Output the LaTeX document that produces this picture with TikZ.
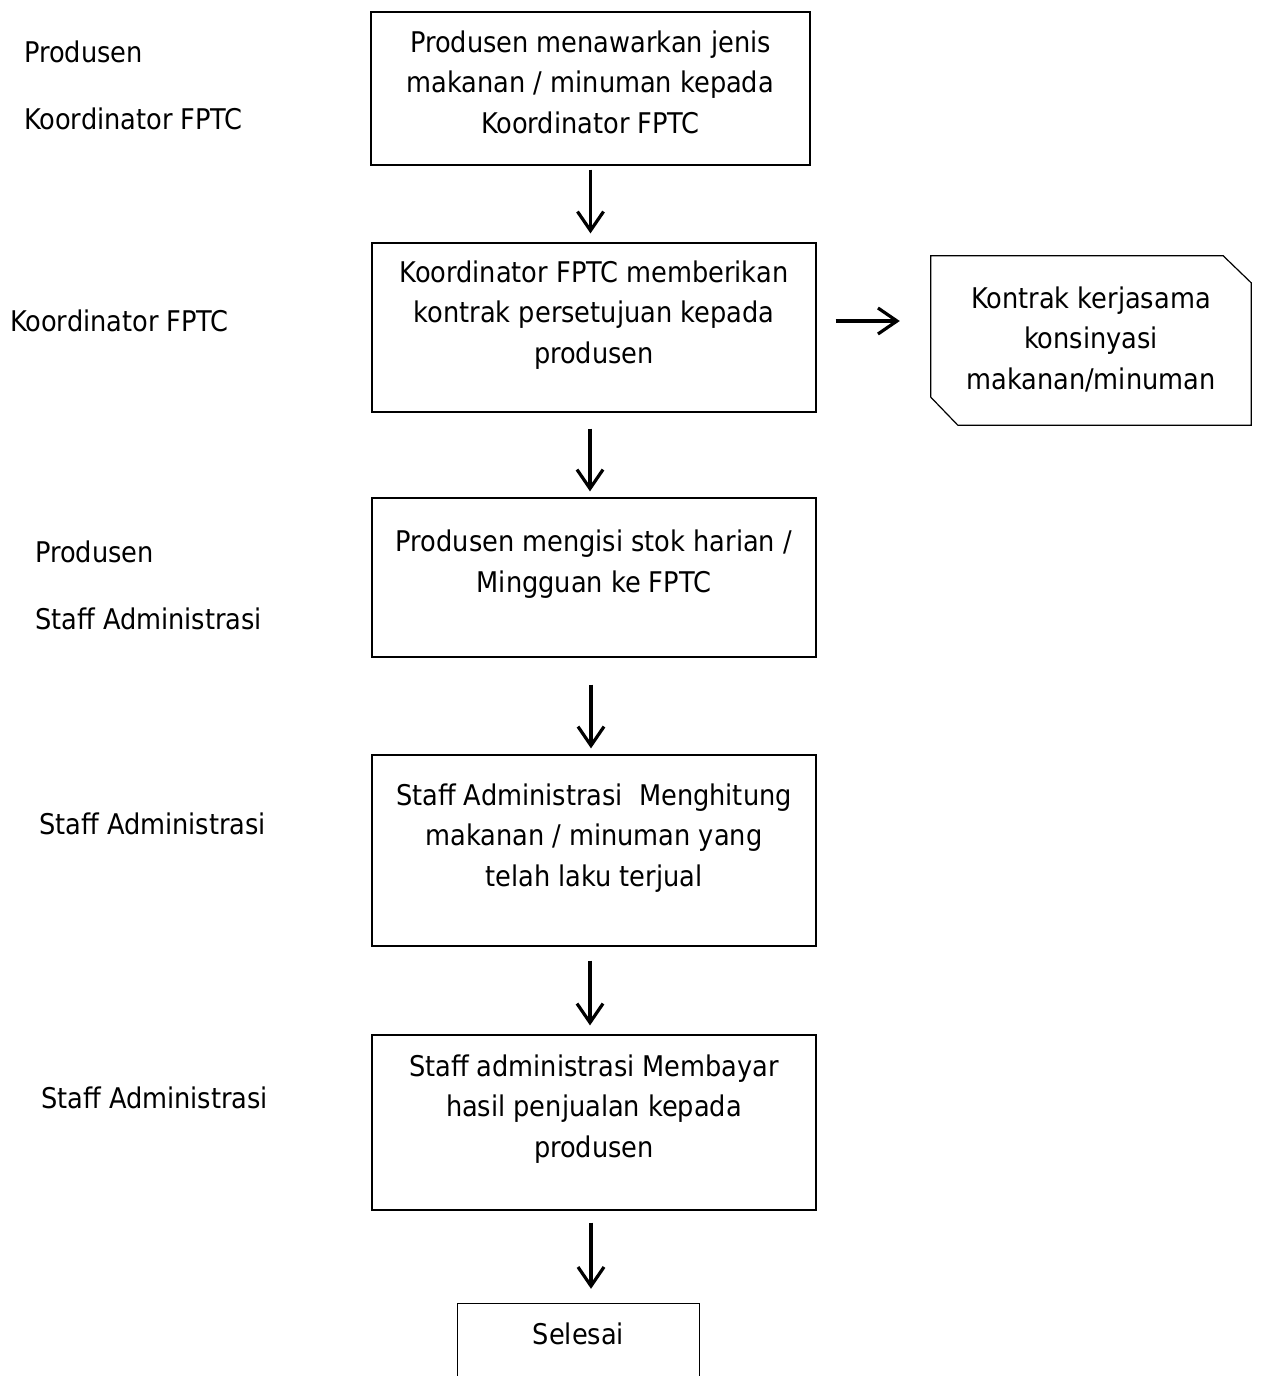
\documentclass[tikz,border=0pt]{standalone}
\usepackage{fontspec}
\setmainfont{DejaVu Sans Condensed}
\usetikzlibrary{arrows.meta}
\begin{document}
\begin{tikzpicture}[x=1pt,y=-1pt,
  box/.style={draw=black,line width=1.2pt,rectangle,inner sep=0pt},
  txt/.style={inner sep=0pt,align=center,font=\fontsize{28.5}{40.5}\selectfont},
  lbl/.style={inner sep=0pt,anchor=west,font=\fontsize{28.5}{40.5}\selectfont},
  arr/.style={line width=3.2pt,-{Straight Barb[length=19pt,width=26pt,line width=3.2pt]}}]
\useasboundingbox (0,0) rectangle (1261,1376);
% boxes
\node[box,minimum width=439pt,minimum height=153pt] (b1) at (590.5,88.5) {};
\node[box,minimum width=444pt,minimum height=169pt] (b2) at (594,327.5) {};
\node[box,minimum width=444pt,minimum height=159pt] (b3) at (594,577.5) {};
\node[box,minimum width=444pt,minimum height=191pt] (b4) at (594,850.5) {};
\node[box,minimum width=444pt,minimum height=175pt] (b5) at (594,1122.5) {};
\node[inner sep=0pt,minimum width=241pt,minimum height=100pt] (b6) at (578.5,1354) {};
\draw[line width=1.2pt] (b6.south west) -- (b6.north west) -- (b6.north east) -- (b6.south east);
% document shape
\node[inner sep=0pt,minimum width=320pt,minimum height=169pt] (doc) at (1091,340.5) {};
\draw[line width=1.2pt] (doc.north west) -- ([xshift=-28pt]doc.north east) -- ([yshift=-27pt]doc.north east)
  -- (doc.south east) -- ([xshift=27pt]doc.south west) -- ([yshift=28pt]doc.south west) -- cycle;
% texts
\node[txt] (t1) at (590.5,82) {Produsen menawarkan jenis\\makanan / minuman kepada\\Koordinator FPTC};
\node[txt] (t2) at (594,315) {Koordinator FPTC memberikan\\kontrak persetujuan kepada\\produsen};
\node[txt] (t3) at (594,564) {Produsen mengisi stok harian /\\Mingguan ke FPTC};
\node[txt] (t4) at (594,838) {Staff Administrasi\ \ Menghitung\\makanan / minuman yang\\telah laku terjual};
\node[txt] (t5) at (594,1109) {Staff administrasi Membayar\\hasil penjualan kepada\\produsen};
\node[txt] (t6) at (578.5,1334) {Selesai};
\node[txt] (t7) at (1091,339) {Kontrak kerjasama\\konsinyasi\\makanan/minuman};
% left labels
\node[lbl] (l1) at (24,52) {Produsen};
\node[lbl] (l2) at (24,119) {Koordinator FPTC};
\node[lbl] (l3) at (10,321) {Koordinator FPTC};
\node[lbl] (l4) at (35,552) {Produsen};
\node[lbl] (l5) at (35,619) {Staff Administrasi};
\node[lbl] (l6) at (39,824) {Staff Administrasi};
\node[lbl] (l7) at (41,1098) {Staff Administrasi};
% arrows
\draw[arr] ([yshift=-4pt]b1.south) -- ([yshift=9pt]b2.north -| b1.south);
\draw[arr] ([xshift=-4pt,yshift=-16pt]b2.south) -- ([xshift=-4pt,yshift=6pt]b3.north);
\draw[arr] ([xshift=-3pt,yshift=-27pt]b3.south) -- ([xshift=-3pt,yshift=6pt]b4.north);
\draw[arr] ([xshift=-4pt,yshift=-14pt]b4.south) -- ([xshift=-4pt,yshift=9pt]b5.north);
\draw[arr] ([xshift=-3pt,yshift=-12pt]b5.south) -- ([xshift=-3pt,yshift=15pt]b6.north -| b5.south);
\draw[arr] ([xshift=19pt,yshift=19.5pt]b2.east |- doc.west) -- ([xshift=-31pt,yshift=19.5pt]doc.west);
\end{tikzpicture}
\end{document}
